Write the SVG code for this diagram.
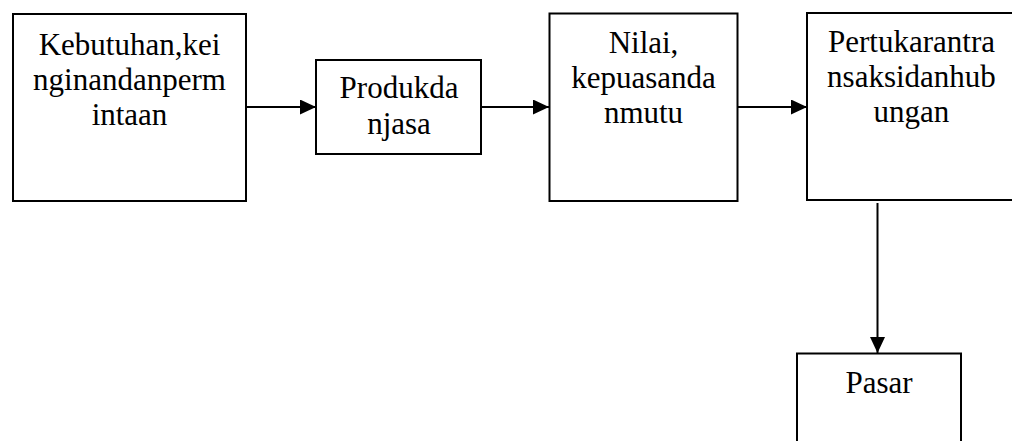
<svg xmlns="http://www.w3.org/2000/svg" width="1012" height="441" viewBox="0 0 1012 441">
  <style>
    .box { fill: #ffffff; stroke: #000000; stroke-width: 2; }
    .lbl { font-family: 'Liberation Serif', 'Times New Roman', 'DejaVu Serif', serif; font-size: 31px; fill: #000000; text-anchor: middle; }
    .edge { stroke: #000000; stroke-width: 2; fill: none; marker-end: url(#arrow); }
  </style>
  <defs>
    <marker id="arrow" markerWidth="16" markerHeight="15" refX="16" refY="7.5" orient="auto" markerUnits="userSpaceOnUse">
      <path d="M0,0 L16,7.5 L0,15 Z" fill="#000000"/>
    </marker>
  </defs>
  <rect width="1012" height="441" fill="#ffffff"/>

  <g id="connectors">
    <line class="edge" x1="247" y1="107" x2="316" y2="107"/>
    <line class="edge" x1="481" y1="107" x2="549" y2="107"/>
    <line class="edge" x1="738" y1="107" x2="807" y2="107"/>
    <line class="edge" x1="877.5" y1="203" x2="877.5" y2="353"/>
  </g>

  <g id="kebutuhan">
    <rect class="box" x="13" y="14" width="233" height="187"/>
    <text class="lbl" x="129.5" y="55">Kebutuhan,kei</text>
    <text class="lbl" x="129.5" y="90">nginandanperm</text>
    <text class="lbl" x="129.5" y="125">intaan</text>
  </g>

  <g id="produk">
    <rect class="box" x="316" y="60" width="165" height="94"/>
    <text class="lbl" x="399" y="98">Produkda</text>
    <text class="lbl" x="399" y="134">njasa</text>
  </g>

  <g id="nilai">
    <rect class="box" x="549.5" y="13.5" width="188" height="187.5"/>
    <text class="lbl" x="643.5" y="53">Nilai,</text>
    <text class="lbl" x="643.5" y="88">kepuasanda</text>
    <text class="lbl" x="643.5" y="123">nmutu</text>
  </g>

  <!-- this box runs past the right edge of the sheet -->
  <g id="pertukaran">
    <rect class="box" x="807" y="13" width="210" height="187"/>
    <text class="lbl" x="911.5" y="52">Pertukarantra</text>
    <text class="lbl" x="911.5" y="87">nsaksidanhub</text>
    <text class="lbl" x="911.5" y="122">ungan</text>
  </g>

  <g id="pasar">
    <rect class="box" x="797" y="353.5" width="164" height="120"/>
    <text class="lbl" x="879" y="393">Pasar</text>
  </g>
</svg>
